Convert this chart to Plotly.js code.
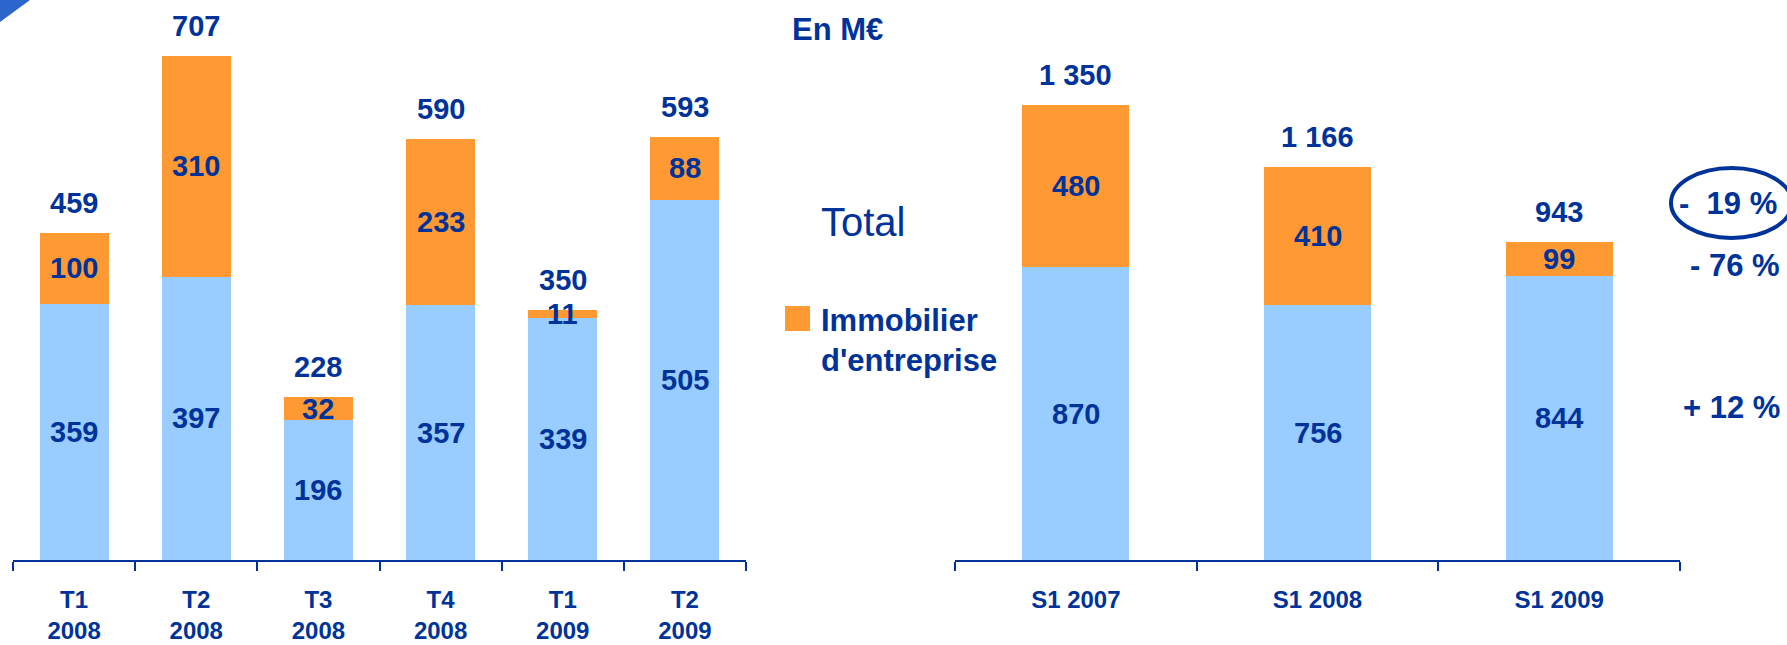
<!DOCTYPE html>
<html><head><meta charset="utf-8">
<script src="https://cdn.plot.ly/plotly-3.0.1.min.js"></script>
<style>html,body{margin:0;padding:0;background:#fff}#chart{width:1787px;height:645px}</style>
</head><body><div id="chart"></div>
<script>
// ---- data ----
const quarterCats = ["T1<br>2008","T2<br>2008","T3<br>2008","T4<br>2008","T1<br>2009","T2<br>2009"];
const quarterOther = [359, 397, 196, 357, 339, 505];
const quarterImmo  = [100, 310, 32, 233, 11, 88];
const semesterCats = ["S1 2007","S1 2008","S1 2009"];
const semesterOther = [870, 756, 844];
const semesterImmo  = [480, 410, 99];
const pctLabels = ["-\u00a0\u00a019 %", "- 76 %", "+ 12 %"];

// ---- styles ----
const NAVY = "#003399", ORANGE = "#FF9933", LIGHT = "#99CCFF";
const FONT = "'Liberation Sans', Arial, sans-serif";
const W = 1787, H = 645;
const px = x => x / W, py = y => 1 - y / H;

function fmt(v){ return String(v).replace(/\B(?=(\d{3})+(?!\d))/g, "\u00a0"); }

const RW = 0.442; // right-chart bar width in category units
const traces = [
  {type:"bar", x:quarterCats, y:quarterOther, marker:{color:LIGHT}, xaxis:"x", yaxis:"y", hoverinfo:"none"},
  {type:"bar", x:quarterCats, y:quarterImmo, marker:{color:ORANGE}, xaxis:"x", yaxis:"y", hoverinfo:"none"},
  {type:"bar", x:semesterCats, y:semesterOther, width:RW, marker:{color:LIGHT}, xaxis:"x2", yaxis:"y2", hoverinfo:"none"},
  {type:"bar", x:semesterCats, y:semesterImmo, width:RW, marker:{color:ORANGE}, xaxis:"x2", yaxis:"y2", hoverinfo:"none"}
];

const ann = [];
const valFont = {family:FONT, size:29, color:NAVY, weight:"bold"};
function addLabels(cats, a, b, xr, yr){
  cats.forEach((c,i)=>{
    ann.push({x:c, y:a[i]/2, xref:xr, yref:yr, text:fmt(a[i]), showarrow:false, font:valFont});
    ann.push({x:c, y:a[i]+b[i]/2, xref:xr, yref:yr, text:fmt(b[i]), showarrow:false, font:valFont});
    ann.push({x:c, y:a[i]+b[i], xref:xr, yref:yr, text:fmt(a[i]+b[i]), showarrow:false, font:valFont, yshift:30});
  });
}
addLabels(quarterCats, quarterOther, quarterImmo, "x", "y");
addLabels(semesterCats, semesterOther, semesterImmo, "x2", "y2");

ann.push({x:px(790), y:py(29), xref:"paper", yref:"paper", xanchor:"left", yanchor:"middle", text:"En M€", showarrow:false, font:{family:FONT, size:31, color:NAVY, weight:"bold"}});
ann.push({x:px(819), y:py(222), xref:"paper", yref:"paper", xanchor:"left", yanchor:"middle", text:"Total", showarrow:false, font:{family:FONT, size:40, color:NAVY}});
ann.push({x:px(819), y:py(340), xref:"paper", yref:"paper", xanchor:"left", yanchor:"middle", align:"left", text:"Immobilier<br>d'entreprise", showarrow:false, font:{family:FONT, size:31, color:NAVY, weight:"bold"}});
const pctY = [203, 265, 407];
const pctX = [1779, 1782, 1782];
pctLabels.forEach((t,i)=>ann.push({x:px(pctX[i]), y:py(pctY[i]), xref:"paper", yref:"paper", xanchor:"right", yanchor:"middle", text:t, showarrow:false, font:{family:FONT, size:31, color:NAVY, weight:"bold"}}));

const shapes = [
  {type:"rect", xref:"paper", yref:"paper", x0:px(785), x1:px(810), y0:py(331), y1:py(306), fillcolor:ORANGE, line:{width:0}},
  {type:"circle", xref:"paper", yref:"paper", x0:px(1671), x1:px(1792), y0:py(238), y1:py(168), line:{color:NAVY, width:4}},
  {type:"path", xref:"paper", yref:"paper", path:`M 0 ${py(0)} L ${px(30)} ${py(0)} L 0 ${py(22)} Z`, fillcolor:"#2A66CC", line:{width:0}}
];

const xBase = {type:"category", showgrid:false, zeroline:false, showline:true, linecolor:NAVY, linewidth:2,
  ticks:"outside", tickson:"boundaries", ticklen:9, tickwidth:2, tickcolor:NAVY,
  tickfont:{family:FONT, size:24, color:NAVY, weight:"bold"}, ticklabelstandoff:17};
const yBase = {visible:false, showgrid:false, zeroline:false};

const layout = {
  width:W, height:H, margin:{l:0, r:0, t:0, b:0}, barmode:"stack", showlegend:false,
  paper_bgcolor:"#fff", plot_bgcolor:"#fff",
  xaxis:Object.assign({}, xBase, {domain:[px(13), px(746)], anchor:"y"}),
  yaxis:Object.assign({}, yBase, {domain:[py(560), 1], range:[0, 785], anchor:"x"}),
  xaxis2:Object.assign({}, xBase, {domain:[px(955), px(1680)], anchor:"y2"}),
  yaxis2:Object.assign({}, yBase, {domain:[py(560), 1], range:[0, 1663], anchor:"x2"}),
  bargap:0.435,
  annotations:ann, shapes:shapes
};
Plotly.newPlot("chart", traces, layout, {staticPlot:true, displayModeBar:false});
</script></body></html>
